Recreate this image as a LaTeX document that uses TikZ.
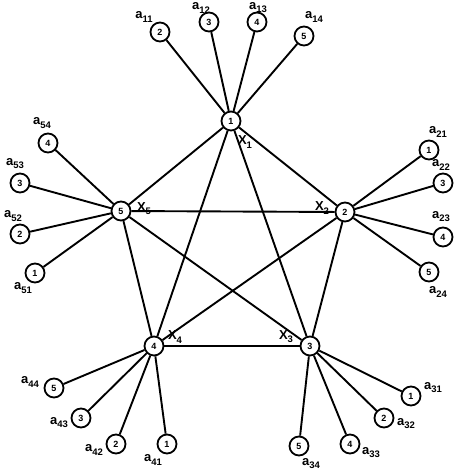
\documentclass[tikz,border=0pt]{standalone}
\usepackage{fontspec}
\setmainfont{Liberation Sans}
\newcommand\idx[1]{\raisebox{-0.45ex}{\fontsize{9.5}{9.5}\selectfont\bfseries #1}}
\begin{document}
\begin{tikzpicture}[x=1pt,y=-1pt,
  vtx/.style={circle,draw,line width=1.8pt,fill=white,minimum size=19pt,inner sep=0pt,
    font=\fontsize{9}{9}\selectfont\bfseries},
  edge/.style={line width=1.9pt},
  lab/.style={font=\fontsize{13}{13}\selectfont\bfseries, inner sep=0pt}]
\useasboundingbox (0,0) rectangle (455,475);

% central vertices
\node[vtx] (v1) at (231,121) {1};
\node[vtx] (v2) at (345,212) {2};
\node[vtx] (v3) at (310,346) {3};
\node[vtx] (v4) at (154,346) {4};
\node[vtx] (v5) at (121,211) {5};

% leaves of vertex 1
\node[vtx] (l11) at (160,32) {2};
\node[vtx] (l12) at (209,22) {3};
\node[vtx] (l13) at (257,22) {4};
\node[vtx] (l14) at (304,36) {5};
% leaves of vertex 2
\node[vtx] (l21) at (429,150) {1};
\node[vtx] (l22) at (443,183) {3};
\node[vtx] (l23) at (443,237) {4};
\node[vtx] (l24) at (429,272) {5};
% leaves of vertex 3
\node[vtx] (l31) at (411,396) {1};
\node[vtx] (l32) at (384,418) {2};
\node[vtx] (l33) at (350,444) {4};
\node[vtx] (l34) at (299,446) {5};
% leaves of vertex 4
\node[vtx] (l41) at (167,444) {1};
\node[vtx] (l42) at (116,444) {2};
\node[vtx] (l43) at (81,418) {3};
\node[vtx] (l44) at (54,388) {5};
% leaves of vertex 5
\node[vtx] (l51) at (35,273) {1};
\node[vtx] (l52) at (20,234) {2};
\node[vtx] (l53) at (20,183) {3};
\node[vtx] (l54) at (48,143) {4};

% complete graph on the central vertices
\foreach \a/\b in {v1/v2,v1/v3,v1/v4,v1/v5,v2/v3,v2/v4,v2/v5,v3/v4,v3/v5,v4/v5}
  \draw[edge] (\a) -- (\b);
% pendant edges
\foreach \i in {1,...,5}
  \foreach \j in {1,...,4}
    \draw[edge] (v\i) -- (l\i\j);

% leaf labels
\node[lab] at (144,17) {a\idx{11}};
\node[lab] at (201,8) {a\idx{12}};
\node[lab] at (258,8) {a\idx{13}};
\node[lab] at (314,17) {a\idx{14}};
\node[lab] at (438,132) {a\idx{21}};
\node[lab] at (441,165) {a\idx{22}};
\node[lab] at (441,217) {a\idx{23}};
\node[lab] at (438,292) {a\idx{24}};
\node[lab] at (433,388) {a\idx{31}};
\node[lab] at (406,424) {a\idx{32}};
\node[lab] at (371,453) {a\idx{33}};
\node[lab] at (311,464) {a\idx{34}};
\node[lab] at (153,460) {a\idx{41}};
\node[lab] at (94,450) {a\idx{42}};
\node[lab] at (59,423) {a\idx{43}};
\node[lab] at (30,382) {a\idx{44}};
\node[lab] at (23,288) {a\idx{51}};
\node[lab] at (13,216) {a\idx{52}};
\node[lab] at (15,164) {a\idx{53}};
\node[lab] at (42,123) {a\idx{54}};

% vertex labels
\node[lab] at (245,142) {X\idx{1}};
\node[lab] at (322,208) {X\idx{2}};
\node[lab] at (286,337) {X\idx{3}};
\node[lab] at (175,337) {X\idx{4}};
\node[lab] at (144,209) {X\idx{5}};
\end{tikzpicture}
\end{document}
